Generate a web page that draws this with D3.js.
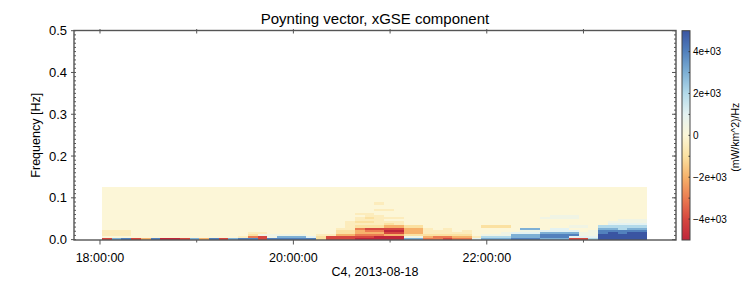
<!DOCTYPE html>
<html>
<head>
<meta charset="utf-8">
<script src="https://cdn.jsdelivr.net/npm/d3@7"></script>
<style>
body { margin: 0; background: #fff; }
text { font-family: "Liberation Sans", Arial, sans-serif; fill: #000; }
</style>
</head>
<body>
<div id="chart"></div>
<script>
/* TEXTS */
var title = "Poynting vector, xGSE component";
var xLabel = "C4, 2013-08-18";
var yLabel = "Frequency [Hz]";
var cbLabel = "(mW/km^2)/Hz";

/* AXES */
var timeRange = ["2013-08-18T17:43:52Z", "2013-08-18T23:57:25Z"];
var hourTicks = ["2013-08-18T18:00:00Z", "2013-08-18T19:00:00Z", "2013-08-18T20:00:00Z",
                 "2013-08-18T21:00:00Z", "2013-08-18T22:00:00Z", "2013-08-18T23:00:00Z"];
var hourLabels = ["18:00:00", "", "20:00:00", "", "22:00:00", ""];
var freqTicks = [0.0, 0.1, 0.2, 0.3, 0.4, 0.5];
var freqTickLabels = ["0.0", "0.1", "0.2", "0.3", "0.4", "0.5"];
var cbTicks = [-4000, -3000, -2000, -1000, 0, 1000, 2000, 3000, 4000];
var cbLabelled = [-4000, -2000, 0, 2000, 4000];
var cbTickLabels = ["\u22124e+03", "\u22122e+03", "0", "2e+03", "4e+03"];

/* SPECTROGRAM: time span of the columns, frequency bin edges, cell values */
var dataStart = "2013-08-18T18:01:15Z";
var dataEnd = "2013-08-18T23:39:20Z";
var freqEdges = [0.000, 0.005, 0.010, 0.015, 0.020, 0.025, 0.030, 0.035, 0.040, 0.045,
                 0.050, 0.055, 0.060, 0.065, 0.070, 0.075, 0.080, 0.085, 0.090, 0.095,
                 0.100, 0.105, 0.110, 0.115, 0.120, 0.125];

// value of each letter, (mW/km^2)/Hz
var levels = { ".": 0,
    a: -500, b: -1000, c: -2000, d: -3000, e: -4000, f: -5000,
    A: 500,  B: 1000,  C: 2000,  D: 3000,  E: 4000,  F: 5000 };

// one string per frequency bin (lowest first), 56 time columns in groups of 5
var rows = [
    "eDEec EffeD cEeDE EeEEE EEbee effff fDDdd eddBD DDEEE DDDee CFFFF F",
    "..... ..... ....a deADD DBbee eeeff fAAcd dccaC CCDDD EEEBB BFFFF F",
    "aaa.. ..... ..... bAAAA A.aac cdddc cbbbb bbb.A AADDD EEEEA AFFFF F",
    "aaa.. ..... ..... aa... ....b bccce eccaa aaa.. .ABBB DDDDA AEFEF F",
    "aaa.. ..... ..... ..... ....b bcddf fccaa a.a.. ...AA BBBB. AEEEE E",
    "..... ..... ..... ..... ....a adeee ecca. a.... ...DD .BB.. .DDCD D",
    "..... ..... ..... ..... ..... abbbc cbb.. ....b bb... ...AA .CCCC C",
    "..... ..... ..... ..... ..... aaaab a.... ..... ..... ..... ..BBB B",
    "..... ..... ..... ..... ..... abbaa a.... ..... ..... ..... ..AAA A",
    "..... ..... ..... ..... ..... .aaa. ..... ..... ..... ..... ...AA A",
    "..... ..... ..... ..... ..... .abaa a.... ..... ..... AAAA. ..... .",
    "..... ..... ..... ..... ..... ..aa. ..... ..... ..... .AAA. ..... .",
    "..... ..... ..... ..... ..... .aa.. ..... ..... ..... ..... ..... .",
    "..... ..... ..... ..... ..... ..... ..... ..... ..... ..... ..... .",
    "..... ..... ..... ..... ..... ...aa ..... ..... ..... ..... ..... .",
    "..... ..... ..... ..... ..... ..... ..... ..... ..... ..... ..... .",
    "..... ..... ..... ..... ..... ..... ..... ..... ..... ..... ..... .",
    "..... ..... ..... ..... ..... ...a. ..... ..... ..... ..... ..... .",
    "..... ..... ..... ..... ..... ..... ..... ..... ..... ..... ..... .",
    "..... ..... ..... ..... ..... ..... ..... ..... ..... ..... ..... .",
    "..... ..... ..... ..... ..... ..... ..... ..... ..... ..... ..... .",
    "..... ..... ..... ..... ..... ..... ..... ..... ..... ..... ..... .",
    "..... ..... ..... ..... ..... ..... ..... ..... ..... ..... ..... .",
    "..... ..... ..... ..... ..... ..... ..... ..... ..... ..... ..... .",
    "..... ..... ..... ..... ..... ..... ..... ..... ..... ..... ..... ."
];

/* COLOUR MAP */
var cbStops = [-5000, -4000, -3000, -2000, -1000, 0, 1000, 2000, 3000, 4000, 5000];
var cbColors = ["#bf263b", "#d6473f", "#eb7c51", "#f6b26b", "#fbe1a1", "#fcf6d7",
                "#e4f2f1", "#b3daea", "#7eb0d5", "#5281bd", "#3a55a2"];

/* SVG */
var width = 750, height = 300;
var svg = d3.select("#chart").append("svg")
    .attr("width", width)
    .attr("height", height);

// plot box (note: "top" is reserved on window, so use other names)
var pLeft = 74, pRight = 676, pTop = 30.5, pBottom = 240;

var x = d3.scaleUtc()
    .domain(timeRange.map(function(d) { return new Date(d); }))
    .range([pLeft, pRight]);

var y = d3.scaleLinear()
    .domain([0, 0.5])
    .range([239.6, 30.7]);

var color = d3.scaleLinear()
    .domain(cbStops)
    .range(cbColors)
    .clamp(true);

/* DRAW THE CELLS */
var t0 = new Date(dataStart).getTime();
var t1 = new Date(dataEnd).getTime();
var cells = [];
rows.forEach(function(row, r) {
    var chars = row.replace(/ /g, "").split("");
    var step = (t1 - t0) / chars.length;
    chars.forEach(function(ch, c) {
        cells.push({
            tStart: new Date(t0 + c * step),
            tEnd: new Date(t0 + (c + 1) * step),
            fLow: freqEdges[r],
            fHigh: freqEdges[r + 1],
            value: levels[ch]
        });
    });
});

svg.append("g")
    .attr("shape-rendering", "crispEdges")
    .selectAll("rect")
    .data(cells)
    .enter()
    .append("rect")
        .attr("x", function(d) { return x(d.tStart); })
        .attr("y", function(d) { return y(d.fHigh); })
        .attr("width", function(d) { return x(d.tEnd) - x(d.tStart) + 0.5; })
        .attr("height", function(d) { return y(d.fLow) - y(d.fHigh) + 0.5; })
        .attr("fill", function(d) { return color(d.value); });

/* FRAME AND TICKS */
var axisColor = "#555";
svg.append("rect")
    .attr("x", pLeft).attr("y", pTop)
    .attr("width", pRight - pLeft).attr("height", pBottom - pTop)
    .attr("fill", "none")
    .attr("stroke", axisColor)
    .attr("stroke-width", 1.4);

var minorF = d3.range(0, 51).map(function(i) { return i / 100; });
var ticksG = svg.append("g").attr("stroke", axisColor).attr("stroke-width", 1);

ticksG.selectAll(".minorL").data(minorF).enter().append("line")
    .attr("x1", pLeft).attr("x2", pLeft + 2)
    .attr("y1", function(d) { return y(d); }).attr("y2", function(d) { return y(d); });
ticksG.selectAll(".minorR").data(minorF).enter().append("line")
    .attr("x1", pRight - 2).attr("x2", pRight)
    .attr("y1", function(d) { return y(d); }).attr("y2", function(d) { return y(d); });
ticksG.selectAll(".majorL").data(freqTicks).enter().append("line")
    .attr("x1", pLeft - 3).attr("x2", pLeft)
    .attr("y1", function(d) { return y(d); }).attr("y2", function(d) { return y(d); });
ticksG.selectAll(".majorR").data(freqTicks).enter().append("line")
    .attr("x1", pRight - 4).attr("x2", pRight)
    .attr("y1", function(d) { return y(d); }).attr("y2", function(d) { return y(d); });

var hours = hourTicks.map(function(d) { return new Date(d); });
ticksG.selectAll(".top").data(hours).enter().append("line")
    .attr("x1", function(d) { return x(d); }).attr("x2", function(d) { return x(d); })
    .attr("y1", pTop - 1.5).attr("y2", pTop + 3);
ticksG.selectAll(".bottom").data(hours).enter().append("line")
    .attr("x1", function(d) { return x(d); }).attr("x2", function(d) { return x(d); })
    .attr("y1", pBottom)
    .attr("y2", function(d, i) { return hourLabels[i] ? pBottom + 4.5 : pBottom + 2.5; });

/* TICK LABELS */
svg.selectAll(".ylab").data(freqTicks).enter().append("text")
    .attr("x", pLeft - 7)
    .attr("y", function(d) { return y(d) + 4.5; })
    .attr("text-anchor", "end")
    .style("font-size", "13px")
    .text(function(d, i) { return freqTickLabels[i]; });

svg.selectAll(".xlab").data(hours).enter().append("text")
    .attr("x", function(d) { return x(d); })
    .attr("y", 261.5)
    .attr("text-anchor", "middle")
    .style("font-size", "12.5px")
    .text(function(d, i) { return hourLabels[i]; });

svg.append("text")
    .attr("x", (pLeft + pRight) / 2).attr("y", 276)
    .attr("text-anchor", "middle")
    .style("font-size", "12.5px")
    .text(xLabel);

svg.append("text")
    .attr("transform", "translate(40," + ((pTop + pBottom) / 2) + ") rotate(-90)")
    .attr("text-anchor", "middle")
    .style("font-size", "12.5px")
    .text(yLabel);

svg.append("text")
    .attr("x", (pLeft + pRight) / 2).attr("y", 23.5)
    .attr("text-anchor", "middle")
    .style("font-size", "15px")
    .text(title);

/* COLOUR BAR */
var cbX = 682, cbW = 8;
var cbY = d3.scaleLinear().domain([-5000, 5000]).range([240, 30.7]);

var grad = svg.append("defs").append("linearGradient")
    .attr("id", "cbgrad")
    .attr("x1", "0").attr("y1", "1").attr("x2", "0").attr("y2", "0");
grad.selectAll("stop").data(cbStops).enter().append("stop")
    .attr("offset", function(d) { return (d + 5000) / 10000; })
    .attr("stop-color", function(d, i) { return cbColors[i]; });

svg.append("rect")
    .attr("x", cbX).attr("y", cbY(5000))
    .attr("width", cbW).attr("height", cbY(-5000) - cbY(5000))
    .attr("fill", "url(#cbgrad)")
    .attr("stroke", "#444")
    .attr("stroke-width", 1);

svg.selectAll(".cbtick").data(cbTicks).enter().append("line")
    .attr("x1", cbX + cbW - 1.5).attr("x2", cbX + cbW)
    .attr("y1", function(d) { return cbY(d); }).attr("y2", function(d) { return cbY(d); })
    .attr("stroke", "#333");

svg.selectAll(".cblab").data(cbLabelled).enter().append("text")
    .attr("x", cbX + cbW + 3)
    .attr("y", function(d) { return cbY(d) + 3.5; })
    .style("font-size", "10px")
    .text(function(d, i) { return cbTickLabels[i]; });

svg.append("text")
    .attr("transform", "translate(739," + ((pTop + pBottom) / 2 + 2) + ") rotate(-90)")
    .attr("text-anchor", "middle")
    .style("font-size", "10.5px")
    .text(cbLabel);
</script>
</body>
</html>
